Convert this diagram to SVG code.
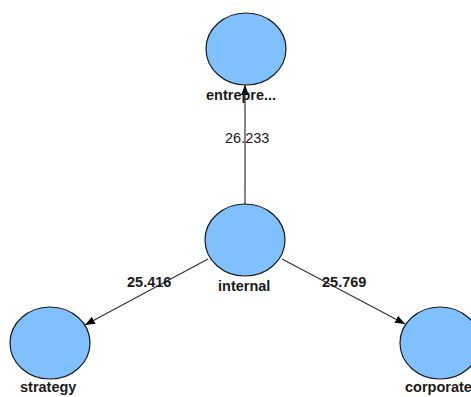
<svg xmlns="http://www.w3.org/2000/svg" width="471" height="397" viewBox="0 0 471 397">
<defs>
<style>
.node ellipse{fill:#80c0ff;stroke:#1a1a1a;stroke-width:1.2}
.nl{font-family:"Liberation Sans",Arial,sans-serif;font-size:14.5px;font-weight:bold;fill:#1a1a1a}
.el{font-family:"Liberation Sans",Arial,sans-serif;font-size:14.5px;font-weight:bold;fill:#1a1a1a}
.el2{font-family:"Liberation Sans",Arial,sans-serif;font-size:14.5px;fill:#1a1a1a}
.edge{stroke:#333;stroke-width:1.2;fill:none;marker-end:url(#arr)}
</style>
<marker id="arr" viewBox="0 0 10 10" refX="10" refY="5" markerWidth="10" markerHeight="10" markerUnits="userSpaceOnUse" orient="auto">
<path d="M0,1 L10,5 L0,9 Z" fill="#000"/>
</marker>
</defs>
<rect width="471" height="397" fill="#fff"/>
<g id="edge-labels-under">
<text class="el2" x="225" y="143">26.233</text>
</g>
<g id="connectors">
<line class="edge" x1="245" y1="204" x2="245" y2="85"/>
<line class="edge" x1="208" y1="259" x2="85" y2="325"/>
<line class="edge" x1="282" y1="259" x2="405" y2="324"/>
</g>
<g id="edge-labels">
<text class="el" x="127" y="287">25.416</text>
<text class="el" x="322" y="287">25.769</text>
</g>
<g id="node-entrepre" class="node">
<ellipse cx="246" cy="49" rx="40" ry="36"/>
<text class="nl" x="206" y="100">entrepre...</text>
</g>
<g id="node-internal" class="node">
<ellipse cx="245" cy="240" rx="40" ry="36"/>
<text class="nl" x="218" y="291">internal</text>
</g>
<g id="node-strategy" class="node">
<ellipse cx="50" cy="343" rx="40" ry="36"/>
<text class="nl" x="20" y="392">strategy</text>
</g>
<g id="node-corporate" class="node">
<ellipse cx="440" cy="343" rx="40" ry="36"/>
<text class="nl" x="405" y="392">corporate</text>
</g>
</svg>
